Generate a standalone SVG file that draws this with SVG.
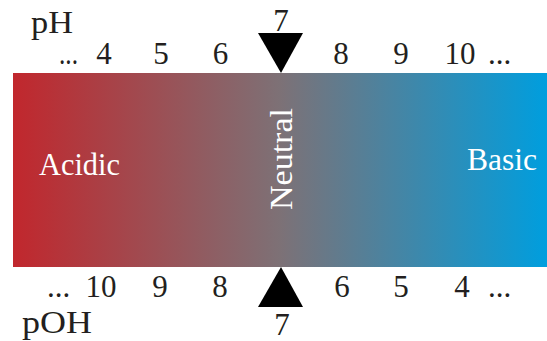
<svg xmlns="http://www.w3.org/2000/svg" width="547" height="341" viewBox="0 0 547 341">
  <defs>
    <linearGradient id="scale" x1="0" y1="0" x2="1" y2="0">
      <stop offset="0" stop-color="#C1272D"/>
      <stop offset="0.5" stop-color="#7D7176"/>
      <stop offset="1" stop-color="#009EDE"/>
    </linearGradient>
  </defs>
  <style>
    text { font-family: "Liberation Serif", "DejaVu Serif", serif; font-size: 31px; fill: #231F20; }
    .num { text-anchor: middle; }
    .zone { fill: #FFFFFF; font-size: 31px; }
    .marker { fill: #000000; }
  </style>
  <rect width="547" height="341" fill="#FFFFFF"/>

  <g id="scale-bar">
    <rect x="13" y="73" width="534" height="194" fill="url(#scale)"/>
  </g>

  <g id="zone-acidic"><text class="zone" x="39" y="175" textLength="81" lengthAdjust="spacingAndGlyphs">Acidic</text></g>
  <g id="zone-neutral"><text class="zone" x="292" y="159" text-anchor="middle" font-size="32" transform="rotate(-90 292 159)" textLength="102" lengthAdjust="spacingAndGlyphs">Neutral</text></g>
  <g id="zone-basic"><text class="zone" x="467" y="170" textLength="70" lengthAdjust="spacingAndGlyphs">Basic</text></g>

  <g id="ph-axis">
    <text x="31" y="33" textLength="42" lengthAdjust="spacingAndGlyphs">pH</text>
    <text class="num" x="281" y="31">7</text>
    <text x="59" y="64" textLength="19" lengthAdjust="spacingAndGlyphs">...</text>
    <text class="num" x="104" y="64">4</text>
    <text class="num" x="161" y="64">5</text>
    <text class="num" x="220.5" y="64">6</text>
    <text class="num" x="341" y="64">8</text>
    <text class="num" x="401" y="64">9</text>
    <text class="num" x="460" y="64">10</text>
    <text x="488" y="64">...</text>
  </g>

  <g id="poh-axis">
    <text x="47" y="297">...</text>
    <text class="num" x="101" y="297">10</text>
    <text class="num" x="160" y="297">9</text>
    <text class="num" x="220" y="297">8</text>
    <text class="num" x="342" y="297">6</text>
    <text class="num" x="401" y="297">5</text>
    <text class="num" x="462" y="297">4</text>
    <text x="488" y="297">...</text>
    <text x="22" y="333" textLength="70" lengthAdjust="spacingAndGlyphs">pOH</text>
    <text class="num" x="282" y="335">7</text>
  </g>

  <g id="connectors">
    <polygon id="ph-marker" class="marker" points="258,33 303,33 281,73"/>
    <polygon id="poh-marker" class="marker" points="258,307 303,307 281,267"/>
  </g>
</svg>
